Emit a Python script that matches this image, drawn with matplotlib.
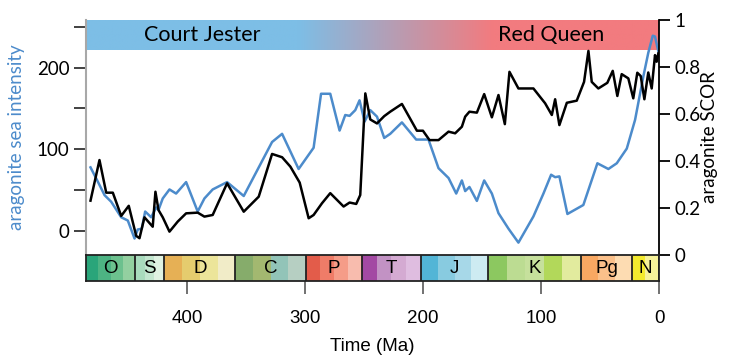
import matplotlib
matplotlib.use("Agg")
import matplotlib.pyplot as plt
import numpy as np
from matplotlib.colors import to_rgb
from matplotlib.ticker import FormatStrFormatter

# aragonite sea intensity (left axis)
sea_age = [481.6, 475.9, 469.7, 464.1, 455.6, 450.0, 444.3, 441.6, 438.2, 435.3,
           430.2, 426.0, 424.0, 420.4, 414.7, 409.1, 400.6, 390.8, 385.1, 378.1,
           365.9, 351.8, 327.8, 319.3, 305.3, 292.6, 286.3, 278.5, 270.6, 265.8,
           262.1, 257.3, 253.7, 249.4, 244.6, 238.9, 232.8, 227.7, 217.8, 205.7,
           195.3, 186.8, 178.3, 171.8, 167.0, 164.2, 160.6, 154.3, 148.1, 141.6,
           136.0, 127.5, 119.1, 106.4, 97.9, 91.4, 88.0, 84.4, 77.6, 64.1,
           52.2, 42.9, 35.8, 27.3, 20.3, 13.3, 9.1, 5.3, 3.4, 0.6]
sea_val = [78, 62, 44, 36, 17, 13, -9, 2, 3, 24,
           17, 29, 26, 40, 51, 46, 60, 24, 40, 51,
           60, 43, 109, 119, 76, 102, 168, 168, 123, 142,
           141, 148, 160, 134, 148, 140, 114, 119, 133, 112,
           112, 77, 65, 46, 62, 49, 54, 37, 62, 46,
           22, 3, -14, 18, 46, 69, 66, 67, 21, 32,
           83, 76, 83, 101, 136, 189, 218, 239, 238, 220]

# aragonite SCOR (right axis)
scor_age = [481.6, 474.0, 468.3, 462.7, 455.6, 449.2, 442.9, 440.1, 435.9, 428.9,
            426.6, 424.0, 420.4, 414.7, 407.7, 400.6, 390.8, 385.1, 378.1, 365.9,
            351.8, 339.1, 327.8, 319.3, 312.3, 304.4, 296.8, 292.6, 285.5, 278.5,
            267.2, 262.1, 256.5, 253.1, 248.8, 244.6, 238.9, 232.8, 227.7, 217.8,
            205.1, 200.0, 194.4, 186.8, 178.3, 172.7, 167.0, 164.2, 160.6, 154.3,
            148.1, 141.6, 136.0, 130.6, 126.7, 119.1, 106.4, 96.5, 90.8, 88.0,
            84.4, 78.1, 69.7, 63.5, 59.8, 57.0, 51.4, 43.8, 39.2, 35.3,
            31.6, 26.0, 21.8, 18.4, 15.5, 12.4, 9.1, 6.2, 3.4, 2.0, 0.6]
scor_val = [0.231, 0.404, 0.265, 0.265, 0.166, 0.209, 0.081, 0.071, 0.160, 0.120,
            0.269, 0.191, 0.160, 0.099, 0.142, 0.177, 0.180, 0.163, 0.170, 0.305,
            0.184, 0.248, 0.430, 0.416, 0.376, 0.308, 0.156, 0.170, 0.220, 0.263,
            0.206, 0.223, 0.217, 0.255, 0.688, 0.577, 0.560, 0.591, 0.610, 0.643,
            0.529, 0.529, 0.489, 0.489, 0.525, 0.518, 0.546, 0.589, 0.610, 0.606,
            0.685, 0.586, 0.681, 0.557, 0.780, 0.709, 0.709, 0.646, 0.596, 0.663,
            0.553, 0.648, 0.657, 0.737, 0.869, 0.737, 0.709, 0.733, 0.784, 0.677,
            0.770, 0.752, 0.667, 0.776, 0.762, 0.663, 0.777, 0.709, 0.851, 0.823, 0.858]

# geologic periods
periods = ["O", "S", "D", "C", "P", "T", "J", "K", "Pg", "N"]
period_start = [485.4, 443.8, 419.2, 358.9, 298.9, 251.9, 201.4, 145.0, 66.0, 23.0]
period_end = [443.8, 419.2, 358.9, 298.9, 251.9, 201.4, 145.0, 66.0, 23.0, 0.0]
period_shades = [
    ["#2aa57a", "#4db383", "#6cc18e", "#93d0a0"],
    ["#a9dbbd", "#c3e6cf", "#dff2e2"],
    ["#e6b055", "#e5cc6e", "#ece59a", "#f1ecc8"],
    ["#86ac6b", "#a3b870", "#92c4b8", "#b6cfc2"],
    ["#e35c4a", "#ef7c68", "#f59c88", "#f8bcae"],
    ["#a349a3", "#c292c4", "#d4aad2", "#dfbde0"],
    ["#52b5d6", "#88cbe0", "#a7d8e8", "#cdebf2"],
    ["#8cc860", "#bcdc92", "#c6e09c", "#b2d85a", "#e2eb9e"],
    ["#f9a862", "#fbc08a", "#fddcb2"],
    ["#f3ea2e", "#f6f29a"],
]

regimes = ["Court Jester", "Red Queen"]

blue = "#4c8bcb"
label_font = ["Lato", "DejaVu Sans"]
plain_font = ["Liberation Sans", "DejaVu Sans"]

fig = plt.figure(figsize=(7.29, 3.6), dpi=100)
ax = fig.add_axes([0.118, 0.292, 0.786, 0.652])
ax2 = ax.twinx()
axt = fig.add_axes([0.118, 0.219, 0.786, 0.073], sharex=ax)

# regime band with gradient
n = 400
xs = np.linspace(0, 1, n)
c1 = np.array(to_rgb("#7dbee6"))
c2 = np.array(to_rgb("#f27b7f"))
w = np.clip((xs - 0.37) / (0.71 - 0.37), 0, 1)
img = (1 - w)[:, None] * c1 + w[:, None] * c2
ax.imshow(img[None, :, :], extent=[0, 1, 0.872, 1.0], transform=ax.transAxes,
          aspect="auto", zorder=1)
ax.text(0.203, 0.936, regimes[0], transform=ax.transAxes, ha="center",
        va="center", fontsize=15.5, family=label_font, zorder=2)
ax.text(0.812, 0.936, regimes[1], transform=ax.transAxes, ha="center",
        va="center", fontsize=15.5, family=label_font, zorder=2)

ax.plot(sea_age, sea_val, color=blue, lw=1.8, zorder=3)
ax2.plot(scor_age, scor_val, color="black", lw=1.8)

ax.set_xlim(485.4, 0)
ax.set_ylim(-29, 258)
ax2.set_ylim(0, 1)

ax.set_yticks([0, 50, 100, 150, 200, 250])
ax.set_yticklabels(["0", "", "100", "", "200", ""])
ax.tick_params(axis="y", length=9, width=1.3, color="#333333", labelsize=13.5, pad=3)
for lab in ax.get_yticklabels():
    lab.set_family(label_font)
ax.tick_params(axis="x", bottom=False, labelbottom=False)
ax.set_ylabel("aragonite sea intensity", color=blue, fontsize=13.5, family=label_font)
ax.yaxis.set_label_coords(-0.106, 0.5)

ax2.set_yticks([0, 0.2, 0.4, 0.6, 0.8, 1.0])
ax2.yaxis.set_major_formatter(FormatStrFormatter("%g"))
ax2.tick_params(axis="y", length=8, width=1.3, labelsize=13.5, pad=3)
for lab in ax2.get_yticklabels():
    lab.set_family(label_font)
ax2.set_ylabel("aragonite SCOR", fontsize=13.5, family=label_font)
ax2.yaxis.set_label_coords(1.074, 0.5)

for a in (ax, ax2):
    a.spines["top"].set_visible(False)
    a.spines["bottom"].set_visible(False)
ax.spines["left"].set_color("#a8a8a8")
ax.spines["left"].set_linewidth(1.5)
ax.spines["right"].set_visible(False)
ax2.spines["left"].set_visible(False)
ax2.spines["right"].set_linewidth(1.3)

# time scale bar
for name, s, e, shades in zip(periods, period_start, period_end, period_shades):
    edges = np.linspace(s, e, len(shades) + 1)
    for i, col in enumerate(shades):
        axt.axvspan(edges[i], edges[i + 1], color=col, lw=0)
    axt.axvline(e, color="#222222", lw=1.3)
    axt.text((s + e) / 2, 0.5, name, ha="center", va="center", fontsize=13.5,
             family=plain_font)
axt.set_ylim(0, 1)
axt.set_yticks([])
axt.set_xticks([400, 300, 200, 100, 0])
axt.tick_params(axis="x", length=9, width=1.3, color="#666666", labelsize=13.5, pad=12)
for lab in axt.get_xticklabels():
    lab.set_family(plain_font)
for sp in axt.spines.values():
    sp.set_color("#222222")
    sp.set_linewidth(1.3)
axt.set_xlabel("Time (Ma)", fontsize=13.5, family=plain_font, labelpad=8)

fig.savefig("out.png", dpi=100)
